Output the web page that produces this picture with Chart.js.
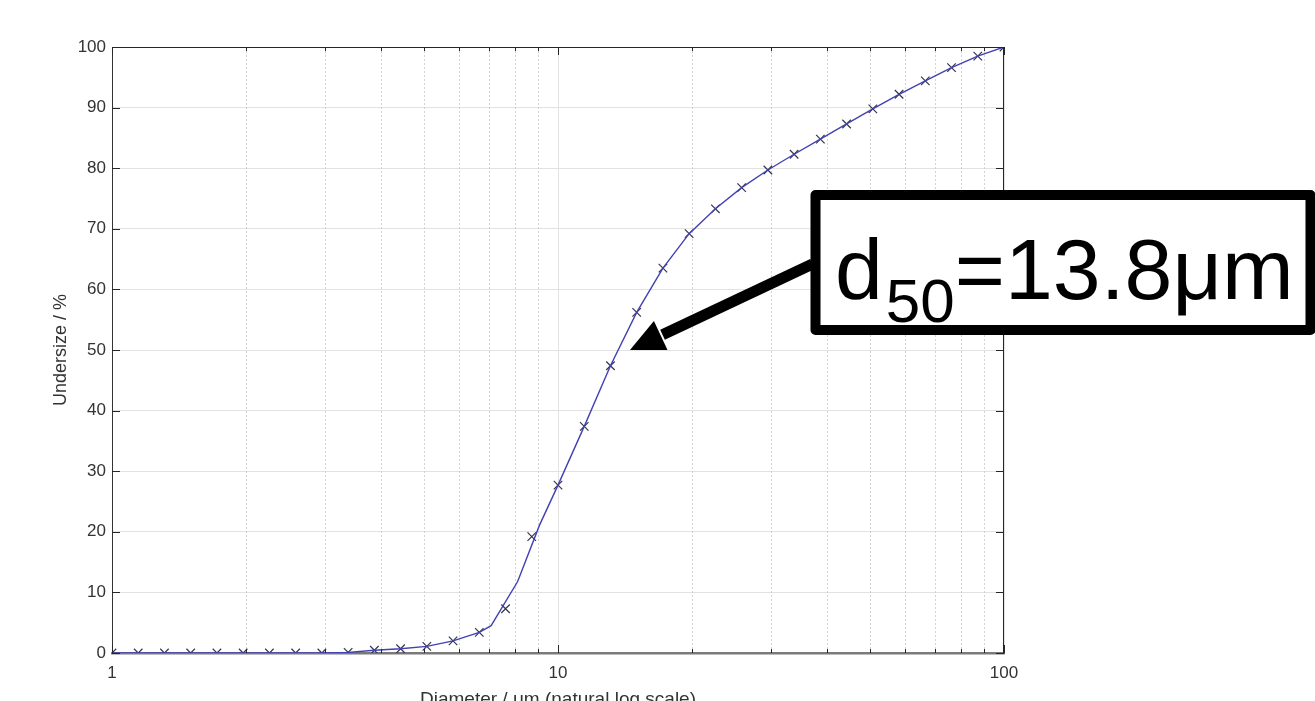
<!DOCTYPE html>
<html><head><meta charset="utf-8">
<script src="https://cdn.jsdelivr.net/npm/chart.js@4.4.0/dist/chart.umd.min.js"></script>
<style>html,body{margin:0;padding:0;background:#fff;overflow:hidden}canvas{display:block}</style>
</head><body>
<canvas id="c" width="1315" height="701"></canvas>
<script>
// Measured points (markers)
const diameters = [1, 1.145, 1.311, 1.501, 1.719, 1.968, 2.254, 2.581, 2.955, 3.384,
  3.875, 4.437, 5.080, 5.817, 6.661, 7.627, 8.733, 10, 11.45, 13.11,
  15.01, 17.19, 19.68, 22.54, 25.81, 29.55, 33.84, 38.75, 44.37, 50.80,
  58.17, 66.61, 76.27, 87.33, 100];
const undersize = [0, 0, 0, 0, 0, 0, 0, 0, 0, 0.1,
  0.45, 0.7, 1.1, 2.0, 3.4, 7.3, 19.2, 27.7, 37.4, 47.4,
  56.2, 63.5, 69.2, 73.3, 76.8, 79.7, 82.3, 84.8, 87.3, 89.8,
  92.2, 94.4, 96.6, 98.5, 100];
// Fitted curve (line)
const curveDiameters = [1, 1.145, 1.311, 1.501, 1.719, 1.968, 2.254, 2.581, 2.955, 3.384,
  3.875, 4.437, 5.080, 5.817, 6.661, 7.08, 8.12, 9.09, 10, 11.45, 13.11,
  15.01, 17.19, 19.68, 22.54, 25.81, 29.55, 33.84, 38.75, 44.37, 50.80,
  58.17, 66.61, 76.27, 87.33, 100];
const curveUndersize = [0, 0, 0, 0, 0, 0, 0, 0, 0, 0.1,
  0.45, 0.7, 1.1, 2.0, 3.4, 4.5, 11.8, 21.1, 27.7, 37.4, 47.4,
  56.2, 63.5, 69.2, 73.3, 76.8, 79.7, 82.3, 84.8, 87.3, 89.8,
  92.2, 94.4, 96.6, 98.5, 100];
const xTickValues = [1,2,3,4,5,6,7,8,9,10,20,30,40,50,60,70,80,90,100];
const xTickLabels = ['1','10','100'];
const yTickValues = [0,10,20,30,40,50,60,70,80,90,100];
const d50Label = ['d', '50', '=13.8\u03bcm'];
const d50Point = [14.5, 50];

const FONT = '"Liberation Sans", Arial, Helvetica, sans-serif';
const isMajor = v => xTickLabels.includes(String(v));

const decor = {
  id: 'decor',
  beforeDatasetsDraw(chart) {
    const {ctx, chartArea: a, scales: {x}} = chart;
    ctx.save();
    ctx.strokeStyle = '#d2d2d2';
    ctx.lineWidth = 1;
    ctx.setLineDash([2, 2]);
    xTickValues.forEach(v => {
      if (isMajor(v)) return;
      const px = Math.round(x.getPixelForValue(v)) + 0.5;
      ctx.beginPath(); ctx.moveTo(px, a.top); ctx.lineTo(px, a.bottom); ctx.stroke();
    });
    ctx.restore();
  },
  afterDatasetsDraw(chart) {
    const {ctx, chartArea: a, scales: {x, y}} = chart;
    ctx.save();
    ctx.strokeStyle = '#262626';
    ctx.lineWidth = 1;
    ctx.beginPath();
    ctx.moveTo(a.left, a.top + 0.5); ctx.lineTo(a.right, a.top + 0.5);
    ctx.moveTo(a.right - 0.5, a.top); ctx.lineTo(a.right - 0.5, a.bottom);
    ctx.stroke();
    yTickValues.forEach(v => {
      const py = Math.round(y.getPixelForValue(v)) + 0.5;
      ctx.beginPath();
      ctx.moveTo(a.left, py); ctx.lineTo(a.left + 8, py);
      ctx.moveTo(a.right, py); ctx.lineTo(a.right - 8, py);
      ctx.stroke();
    });
    xTickValues.forEach(v => {
      const px = Math.round(x.getPixelForValue(v)) + 0.5;
      const len = isMajor(v) ? 8 : 4;
      ctx.beginPath();
      ctx.moveTo(px, a.bottom); ctx.lineTo(px, a.bottom - len);
      ctx.moveTo(px, a.top); ctx.lineTo(px, a.top + len);
      ctx.stroke();
    });
    ctx.restore();
  },
  afterDraw(chart) {
    const {ctx, scales: {x, y}} = chart;
    ctx.save();
    const bx = 815.5, by = 195, bw = 495, bh = 135;
    ctx.fillStyle = '#fff';
    ctx.fillRect(bx, by, bw, bh);
    ctx.lineWidth = 10;
    ctx.lineJoin = 'round';
    ctx.strokeStyle = '#000';
    ctx.strokeRect(bx, by, bw, bh);
    ctx.fillStyle = '#000';
    ctx.textBaseline = 'alphabetic';
    ctx.textAlign = 'left';
    let tx = 835;
    ctx.font = '86px ' + FONT;
    ctx.fillText(d50Label[0], tx, 298.5);
    tx += ctx.measureText(d50Label[0]).width + 3;
    ctx.font = '62px ' + FONT;
    ctx.fillText(d50Label[1], tx, 321.5);
    tx += ctx.measureText(d50Label[1]).width;
    ctx.font = '86px ' + FONT;
    ctx.fillText(d50Label[2], tx, 298.5);
    const tipX = x.getPixelForValue(d50Point[0]);
    const tipY = y.getPixelForValue(d50Point[1]);
    const tailX = bx - 3, tailY = 264;
    const dx = tailX - tipX, dy = tailY - tipY;
    const L = Math.hypot(dx, dy);
    const ux = dx / L, uy = dy / L, nx = -uy, ny = ux;
    const headLen = 34, headW = 16;
    const baseX = tipX + ux * headLen, baseY = tipY + uy * headLen;
    ctx.lineWidth = 11;
    ctx.lineCap = 'butt';
    ctx.beginPath();
    ctx.moveTo(tailX, tailY);
    ctx.lineTo(baseX + ux * 2, baseY + uy * 2);
    ctx.stroke();
    ctx.beginPath();
    ctx.moveTo(tipX, tipY);
    ctx.lineTo(baseX + nx * headW, baseY + ny * headW);
    ctx.lineTo(baseX - nx * headW, baseY - ny * headW);
    ctx.closePath();
    ctx.fill();
    ctx.restore();
  }
};

new Chart(document.getElementById('c'), {
  type: 'scatter',
  data: {
    datasets: [
      {
        label: 'curve',
        data: curveDiameters.map((d, i) => ({x: d, y: curveUndersize[i]})),
        showLine: true,
        borderColor: '#4141b4',
        borderWidth: 1.4,
        pointRadius: 0,
        fill: false,
        tension: 0
      },
      {
        label: 'measured',
        data: diameters.map((d, i) => ({x: d, y: undersize[i]})),
        showLine: false,
        pointStyle: 'crossRot',
        pointRadius: 6,
        pointBorderWidth: 1.2,
        borderColor: '#35354d',
        backgroundColor: '#35354d'
      }
    ]
  },
  options: {
    responsive: false,
    animation: false,
    devicePixelRatio: 1,
    layout: {padding: {top: 47, right: 311, left: 0, bottom: 0}},
    plugins: {legend: {display: false}, tooltip: {enabled: false}},
    scales: {
      x: {
        type: 'logarithmic',
        min: 1, max: 100,
        afterFit: s => { s.height = 48; },
        afterBuildTicks: s => { s.ticks = xTickValues.map(v => ({value: v})); },
        ticks: {
          autoSkip: false, maxRotation: 0, padding: 10,
          color: '#333', font: {family: FONT, size: 17},
          callback: v => isMajor(v) ? String(v) : ''
        },
        grid: {
          drawTicks: false,
          color: c => (c.tick && isMajor(c.tick.value)) ? '#e2e2e2' : 'rgba(0,0,0,0)'
        },
        border: {color: '#7a7a7a', width: 2.5},
        title: {
          display: true, text: 'Diameter / \u03bcm (natural log scale)',
          color: '#333', font: {family: FONT, size: 19},
          padding: {top: 0, bottom: -10}
        }
      },
      y: {
        type: 'linear',
        min: 0, max: 100,
        afterFit: s => { s.width = 112; },
        afterBuildTicks: s => { s.ticks = yTickValues.map(v => ({value: v})); },
        ticks: {padding: 6, color: '#333', font: {family: FONT, size: 17}},
        grid: {drawTicks: false, color: '#e2e2e2'},
        border: {color: '#333', width: 1},
        title: {
          display: true, text: 'Undersize / %',
          color: '#333', font: {family: FONT, size: 18},
          padding: {top: 50, bottom: 0}
        }
      }
    }
  },
  plugins: [decor]
});
</script>
</body></html>
